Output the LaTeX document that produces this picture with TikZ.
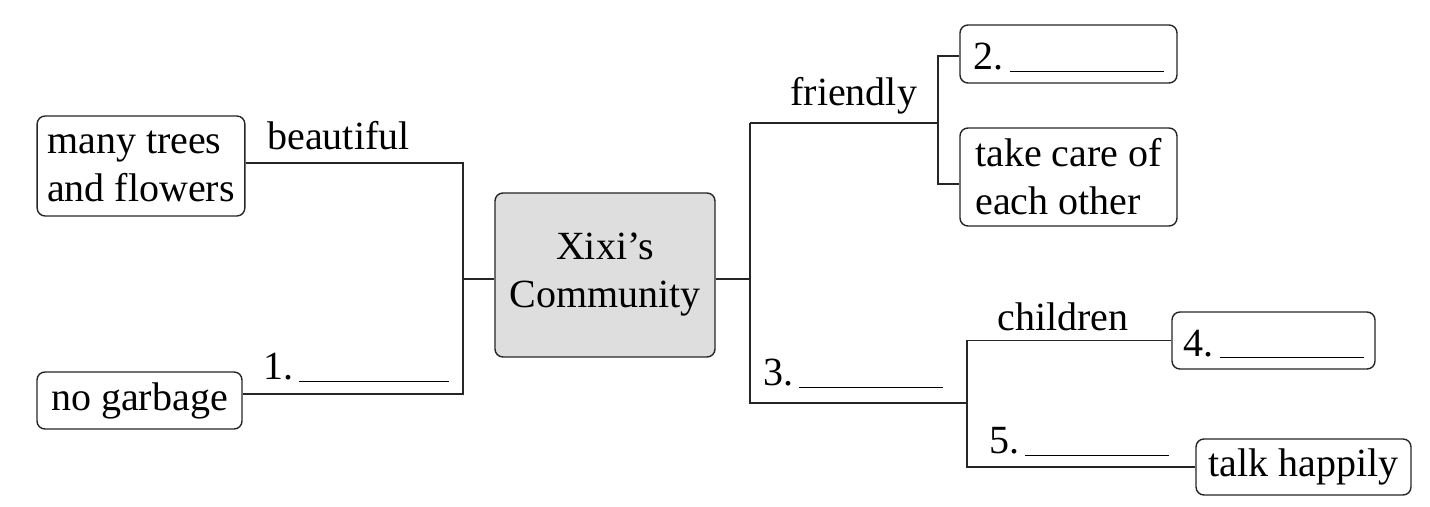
\documentclass[tikz,border=0pt]{standalone}
\usepackage{fontspec}
\setmainfont{Liberation Serif}
\usepackage{tikz}
\usetikzlibrary{calc}
\usetikzlibrary{positioning}
\tikzset{
   big font/.style={font=\fontsize{20}{24}\selectfont},
   box/.style={draw=black!85, line width=0.7pt, rounded corners=4pt,
      inner xsep=5pt, inner ysep=2pt, big font},
   one line/.style={text height=14pt, text depth=4.4pt},
   blank line/.style={text height=19pt, text depth=3pt},
   hubbox/.style={box, fill=black!13, align=center},
   link/.style={draw=black!85, line width=0.7pt},
   tag/.style={anchor=base west, inner sep=0pt, big font},
   }
\newcommand{\blank}[1]{\rule[-1pt]{#1}{0.6pt}}

\begin{document}
\begin{tikzpicture}[x=0.5pt, y=-0.5pt]
   \useasboundingbox[fill=white] (0,0) rectangle (1430,507);

   \node[hubbox, minimum width=110pt, minimum height=82pt] (hub) at (605,275) {Xixi’s\\Community};

   \node[box, align=left, minimum width=101pt, minimum height=50pt] (trees) at (141,166) {many trees\\and flowers};
   \node[box, one line, minimum width=102.5pt, minimum height=28.5pt] (garbage) at (139.5,400.5) {no garbage};

   \node[box, blank line, minimum width=108.5pt, minimum height=29pt] (two) at (1068.5,54) {2.\hspace{3pt}\blank{77pt}};
   \node[box, align=left, minimum width=108.5pt, minimum height=49pt] (care) at (1068.5,177) {take care of\\each other};
   \node[box, blank line, minimum width=101.5pt, minimum height=28.5pt] (four) at (1273.5,340.5) {4.\hspace{3pt}\blank{72pt}};
   \node[box, one line, minimum width=107.5pt, minimum height=28pt] (talk) at (1303.5,467) {talk happily};

   \coordinate (lt) at (463,163);
   \coordinate (lm) at (463,279);
   \coordinate (lb) at (463,394);
   \coordinate (rt) at (750,123);
   \coordinate (rm) at (750,279);
   \coordinate (rb) at (750,403);
   \coordinate (ft) at (938,123);
   \coordinate (fa) at (938,56);
   \coordinate (fb) at (938,184);
   \coordinate (cb) at (967,403);

   \draw[link] (trees.east |- lt) -- (lt) -- (lb) -- (garbage.east |- lb);
   \draw[link] (lm) -- (lm -| hub.west);
   \draw[link] (hub.east |- rm) -- (rm);
   \draw[link] (rt) -- (rb) -- (cb);
   \draw[link] (rt) -- (ft);
   \draw[link] (two.west |- fa) -- (fa) -- (fb) -- (care.west |- fb);
   \draw[link] (four.west) -| (cb) |- (talk.west);

   \node[tag] (beautiful) at (267,150) {beautiful};
   \node[tag] (one) at (263,380) {1.\hspace{3pt}\blank{75pt}};
   \node[tag] (friendly) at (790,106) {friendly};
   \node[tag] (three) at (763,386) {3.\hspace{3pt}\blank{72pt}};
   \node[tag] (children) at (997,331) {children};
   \node[tag] (five) at (989,454) {5.\hspace{3pt}\blank{72pt}};
\end{tikzpicture}
\end{document}
